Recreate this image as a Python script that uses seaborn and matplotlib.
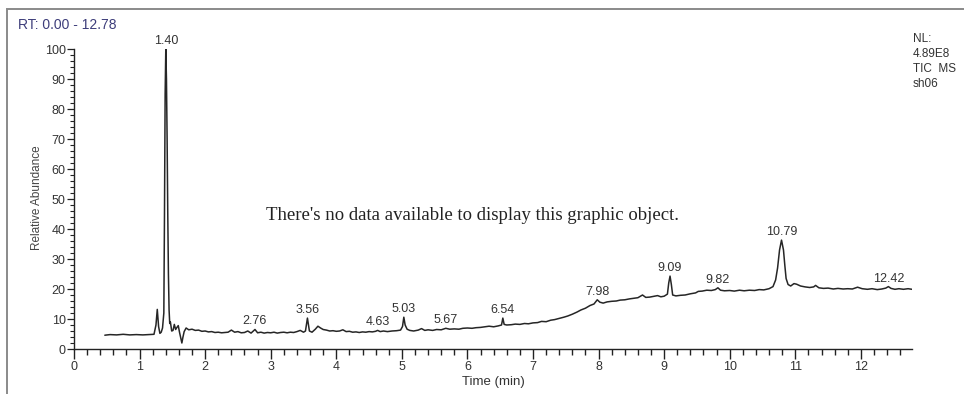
import numpy as np
import pandas as pd
import matplotlib
matplotlib.use("Agg")
import matplotlib.pyplot as plt
from matplotlib.patches import Rectangle
import seaborn as sns

# Total ion chromatogram, sample sh06
time_min = [
    0.47, 0.55, 0.65, 0.75, 0.85, 0.95, 1.05, 1.15, 1.22, 1.25, 1.27, 1.29, 1.31, 1.33, 1.35,
    1.37, 1.38, 1.39, 1.40, 1.41, 1.42, 1.43, 1.44, 1.45, 1.46, 1.47, 1.49, 1.51, 1.53, 1.55,
    1.57, 1.59, 1.61, 1.63, 1.645, 1.66, 1.68, 1.71, 1.75, 1.80, 1.85, 1.90, 1.95, 2.00, 2.05,
    2.10, 2.15, 2.20, 2.25, 2.30, 2.35, 2.40, 2.45, 2.50, 2.55, 2.60, 2.65, 2.70, 2.76, 2.80,
    2.85, 2.90, 2.95, 3.00, 3.05, 3.10, 3.15, 3.20, 3.25, 3.30, 3.35, 3.40, 3.45, 3.50, 3.53,
    3.56, 3.59, 3.63, 3.68, 3.72, 3.76, 3.80, 3.85, 3.90, 3.95, 4.00, 4.05, 4.10, 4.15, 4.20,
    4.25, 4.30, 4.35, 4.40, 4.45, 4.50, 4.55, 4.60, 4.63, 4.67, 4.72, 4.78, 4.85, 4.92, 4.98,
    5.01, 5.03, 5.05, 5.08, 5.12, 5.18, 5.25, 5.30, 5.35, 5.40, 5.47, 5.53, 5.60, 5.67, 5.73,
    5.80, 5.87, 5.93, 6.00, 6.07, 6.13, 6.20, 6.27, 6.33, 6.40, 6.47, 6.52, 6.54, 6.56, 6.60,
    6.67, 6.73, 6.80, 6.87, 6.93, 7.00, 7.07, 7.13, 7.20, 7.27, 7.33, 7.40, 7.47, 7.53, 7.60,
    7.67, 7.73, 7.80, 7.87, 7.93, 7.98, 8.02, 8.07, 8.13, 8.20, 8.27, 8.33, 8.40, 8.47, 8.53,
    8.60, 8.67, 8.72, 8.78, 8.85, 8.90, 8.95, 9.00, 9.05, 9.07, 9.09, 9.11, 9.13, 9.18, 9.25,
    9.32, 9.40, 9.48, 9.52, 9.58, 9.65, 9.72, 9.78, 9.82, 9.86, 9.92, 10.00, 10.07, 10.15, 10.22,
    10.30, 10.38, 10.45, 10.52, 10.60, 10.66, 10.70, 10.73, 10.76, 10.79, 10.82, 10.84, 10.86, 10.89, 10.93,
    10.98, 11.02, 11.08, 11.15, 11.22, 11.28, 11.31, 11.36, 11.43, 11.50, 11.58, 11.65, 11.73, 11.80, 11.87,
    11.95, 12.02, 12.10, 12.17, 12.25, 12.32, 12.38, 12.42, 12.46, 12.52, 12.58, 12.65, 12.72, 12.78,
]
rel_abundance = [
    4.6, 4.8, 4.7, 4.9, 4.7, 4.8, 4.7, 4.8, 4.9, 8.0, 13.2, 7.5, 5.2, 5.6, 7.0,
    12.0, 45.0, 85.0, 100.0, 90.0, 70.0, 45.0, 25.0, 13.0, 8.5, 9.0, 6.0, 6.2, 8.2, 6.5,
    7.2, 7.8, 5.5, 3.5, 2.0, 3.8, 5.8, 7.0, 6.4, 6.6, 6.2, 6.3, 5.9, 6.0, 5.7,
    5.8, 5.5, 5.6, 5.4, 5.5, 5.6, 6.3, 5.6, 5.8, 5.4, 5.5, 6.0, 5.3, 6.5, 5.4,
    5.6, 5.3, 5.5, 5.4, 5.6, 5.3, 5.5, 5.6, 5.4, 5.6, 5.5, 5.8, 6.2, 5.6, 6.0,
    10.3, 6.0, 5.6, 6.6, 7.6, 7.0, 6.5, 6.3, 6.0, 6.1, 5.9, 6.0, 6.4, 5.8, 5.9,
    5.6, 5.7, 5.5, 5.7, 5.6, 5.8, 5.7, 5.9, 6.2, 5.8, 6.0, 5.8, 6.0, 6.1, 6.3,
    7.5, 10.6, 8.0, 6.6, 6.2, 6.0, 6.3, 6.8, 6.2, 6.4, 6.2, 6.5, 6.4, 6.9, 6.6,
    6.7, 6.6, 6.9, 7.0, 6.9, 7.1, 7.2, 7.4, 7.6, 7.4, 7.7, 8.0, 10.3, 8.2, 8.0,
    8.1, 8.3, 8.2, 8.5, 8.4, 8.7, 8.8, 9.2, 9.1, 9.6, 9.8, 10.2, 10.6, 11.0, 11.6,
    12.3, 13.0, 13.6, 14.5, 15.0, 16.4, 15.6, 15.3, 15.7, 15.9, 16.0, 16.3, 16.4, 16.7, 16.9,
    17.1, 18.0, 17.2, 17.3, 17.6, 17.8, 17.4, 17.6, 18.3, 22.0, 24.3, 21.5, 18.0, 17.7, 17.9,
    18.0, 18.4, 18.7, 19.2, 19.3, 19.6, 19.5, 19.8, 20.4, 19.6, 19.4, 19.5, 19.3, 19.6, 19.4,
    19.6, 19.5, 19.8, 19.7, 20.1, 20.8, 23.0, 27.0, 33.0, 36.3, 33.0, 28.0, 23.5, 21.5, 21.0,
    21.8, 21.6, 21.0, 20.7, 20.5, 20.7, 21.2, 20.4, 20.2, 20.3, 20.0, 20.2, 20.0, 20.1, 20.0,
    20.6, 20.1, 19.9, 20.1, 19.8, 20.0, 20.3, 20.8, 20.2, 19.9, 20.1, 19.9, 20.1, 19.9,
]

# Labelled retention times (min)
peak_rt = [1.40, 2.76, 3.56, 4.63, 5.03, 5.67, 6.54, 7.98, 9.09, 9.82, 10.79, 12.42]
peak_labels = ["1.40", "2.76", "3.56", "4.63", "5.03", "5.67", "6.54", "7.98",
               "9.09", "9.82", "10.79", "12.42"]

x_major = list(range(0, 13))
y_major = list(range(0, 101, 10))

rt_range = "RT: 0.00 - 12.78"
nl_block = "NL:\n4.89E8\nTIC  MS\nsh06"
notice = "There's no data available to display this graphic object."

df = pd.DataFrame({"Time (min)": time_min, "Relative Abundance": rel_abundance})

sns.set_theme(style="ticks")
plt.rcParams["font.family"] = ["Liberation Sans", "DejaVu Sans"]

W, H = 964, 394
fig = plt.figure(figsize=(W / 100, H / 100), dpi=100)
fig.patch.set_facecolor("white")
ax = fig.add_axes([74 / W, 1 - 349 / H, (912 - 74) / W, (349 - 49) / H])
ax.set_facecolor("white")

sns.lineplot(data=df, x="Time (min)", y="Relative Abundance", ax=ax,
             color="#262626", linewidth=1.1, sort=False, estimator=None)

ax.set_xlim(0, 12.78)
ax.set_ylim(0, 100)
for side in ("top", "right"):
    ax.spines[side].set_visible(False)
for side in ("left", "bottom"):
    ax.spines[side].set_color("#222222")
    ax.spines[side].set_linewidth(1.0)

ax.set_xticks(x_major)
ax.set_xticks(np.arange(0, 12.78, 0.2), minor=True)
ax.set_yticks(y_major)
ax.set_yticks(np.arange(0, 101, 2), minor=True)
ax.tick_params(axis="x", which="major", direction="out", length=7, width=1.0,
               color="#222222", labelsize=9, labelcolor="#333333", pad=2)
ax.tick_params(axis="x", which="minor", direction="out", length=4, width=1.0, color="#222222")
ax.tick_params(axis="y", which="major", direction="out", length=5, width=0.9,
               color="#222222", labelsize=9, labelcolor="#333333", pad=1)
ax.tick_params(axis="y", which="minor", direction="out", length=3, width=0.8, color="#222222")

ax.set_xlabel("Time (min)", fontsize=9.5, color="#333333")
ax.set_ylabel("Relative Abundance", fontsize=8.5, color="#444444")
ax.xaxis.set_label_coords(0.5, -0.11)
ax.yaxis.set_label_coords(-0.044, 0.503)
ax.xaxis.label.set_verticalalignment("center")
ax.yaxis.label.set_verticalalignment("center")

# retention time labels sit just above each labelled peak
t_arr = np.asarray(time_min)
v_arr = np.asarray(rel_abundance)
for rt, lab in zip(peak_rt, peak_labels):
    i = int(np.argmin(np.abs(t_arr - rt)))
    ax.annotate(lab, xy=(t_arr[i], v_arr[i]), xytext=(0, 1.5), textcoords="offset points",
                ha="center", va="bottom", fontsize=9, color="#333333", annotation_clip=False)

fig.text(18 / W, 1 - 25 / H, rt_range, fontsize=10, color="#3d3d7a", ha="left", va="center")
fig.text(913 / W, 1 - 33 / H, nl_block, fontsize=8.5, color="#333333", ha="left", va="top",
         linespacing=1.35)
fig.text(472 / W, 1 - 215 / H, notice, fontsize=13.5, color="#222222", ha="center",
         va="center", family=["Liberation Serif", "DejaVu Serif"])

# outer panel frame
fig.patches.append(Rectangle((7 / W, -0.5), 2.0, 1 - 9 / H + 0.5, transform=fig.transFigure,
                             fill=False, edgecolor="#8a8a8a", linewidth=1.4))

fig.savefig("out.png", dpi=100, facecolor="white")
